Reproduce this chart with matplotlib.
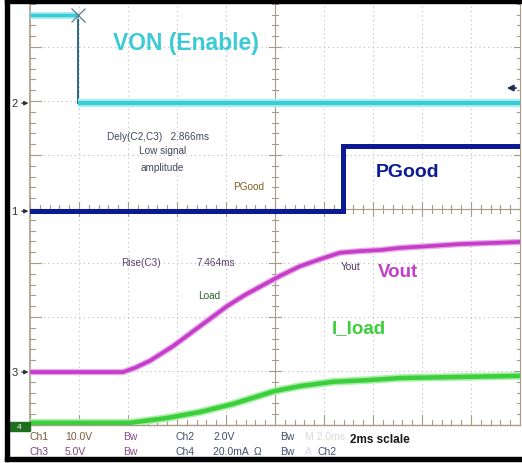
import numpy as np
import matplotlib.pyplot as plt
from matplotlib.patches import Rectangle

plt.rcParams['font.family'] = ['Liberation Sans', 'DejaVu Sans']

# time axis in ms (2 ms / div), vertical in divisions
von_t = [0.0, 1.96, 1.96, 20.0]
von_v = [7.59, 7.59, 5.96, 5.96]

pgood_t = [0.0, 12.78, 12.78, 20.0]
pgood_v = [3.96, 3.96, 5.17, 5.17]

vout_t = [0.0, 3.80, 4.29, 4.90, 5.84, 6.94, 8.04, 8.78, 9.39, 10.20, 11.02,
          11.84, 12.65, 13.47, 14.29, 15.10, 16.20, 17.55, 18.78, 20.0]
vout_v = [0.98, 0.98, 1.06, 1.19, 1.46, 1.83, 2.20, 2.41, 2.56, 2.76, 2.94,
          3.07, 3.19, 3.22, 3.24, 3.28, 3.31, 3.35, 3.37, 3.39]

iload_t = [0.0, 4.08, 5.59, 6.94, 8.29, 10.0, 11.02, 12.37, 13.76, 15.10, 17.55, 20.0]
iload_v = [0.04, 0.04, 0.13, 0.24, 0.39, 0.63, 0.72, 0.80, 0.83, 0.87, 0.89, 0.91]

# channel ground markers
marker_labels = ['2', '1', '3']
marker_levels = [5.96, 3.96, 0.98]

C_CYAN = '#3ccbd6'
C_NAVY = '#0c1a96'
C_MAG = '#c43cc8'
C_GREEN = '#3ccf3c'

fig = plt.figure(figsize=(5.22, 4.64), dpi=100)
# grid is 10 x 8 div, its top row is cut off by the frame
ax = fig.add_axes([30 / 522, 38 / 464, 490 / 522, 432 / 464])
ax.set_xlim(0, 20)
ax.set_ylim(0, 8)
ax.axis('off')

# grid
grid_kw = dict(color='#bcbcbc', lw=0.8, ls=(0, (1, 3)), zorder=1)
for gx in np.arange(2, 20, 2):
    ax.axvline(gx, **grid_kw)
for gy in np.arange(1, 8, 1):
    ax.axhline(gy, **grid_kw)

axis_col = '#a89c88'
ax.axvline(10, color=axis_col, lw=0.8, zorder=1)
ax.axhline(4, color=axis_col, lw=0.8, zorder=1)
ax.plot([0, 0], [0, 8], color=axis_col, lw=1.2, zorder=1, clip_on=False)
ax.plot([0, 20], [0, 0], color=axis_col, lw=1.0, zorder=1, clip_on=False)
ax.plot([20, 20], [0, 8], color=axis_col, lw=0.8, zorder=1, clip_on=False)

# minor ticks on centre axes and borders
for tx in np.arange(0, 20.01, 0.4):
    major = abs(tx / 2 - round(tx / 2)) < 1e-6
    h = 0.13 if major else 0.07
    ax.plot([tx, tx], [4 - h, 4 + h], color=axis_col, lw=0.8, zorder=1)
    ax.plot([tx, tx], [0, h * 1.4], color=axis_col, lw=0.8, zorder=1)
for ty in np.arange(0, 8.01, 0.2):
    major = abs(ty - round(ty)) < 1e-6
    w = 0.45 if major else 0.22
    ax.plot([10 - w / 2, 10 + w / 2], [ty, ty], color=axis_col, lw=0.8, zorder=1)
    ax.plot([0, w], [ty, ty], color=axis_col, lw=0.8, zorder=1, clip_on=False)
    ax.plot([20 - w / 2, 20], [ty, ty], color=axis_col, lw=0.8, zorder=1)

# traces
ax.plot(von_t[1:3], von_v[1:3], color='#2d6a88', lw=1.4, zorder=3)
ax.plot(von_t[:2], von_v[:2], color='#a6f0f2', lw=5, zorder=3, solid_capstyle='butt')
ax.plot(von_t[:2], von_v[:2], color=C_CYAN, lw=2.5, zorder=4, solid_capstyle='butt')
ax.plot(von_t[2:], von_v[2:], color='#a6f0f2', lw=6, zorder=3, solid_capstyle='butt')
ax.plot(von_t[2:], von_v[2:], color=C_CYAN, lw=3, zorder=4, solid_capstyle='butt')
ax.plot(von_t[1], von_v[0], marker='x', ms=10, mew=0.9, color='#607888', zorder=5)

ax.plot(pgood_t, pgood_v, color=C_NAVY, lw=3.6, zorder=4, solid_joinstyle='miter')
ax.plot(vout_t, vout_v, color='#e6a8e8', lw=4.5, zorder=3)
ax.plot(vout_t, vout_v, color=C_MAG, lw=2.6, zorder=4)
ax.plot(iload_t, iload_v, color='#a8eea8', lw=5.5, zorder=3)
ax.plot(iload_t, iload_v, color=C_GREEN, lw=3.2, zorder=4)

# trigger level arrow
ax.annotate('', xy=(19.35, 6.24), xytext=(19.95, 6.24),
            arrowprops=dict(arrowstyle='-|>', color='#203050', lw=1.3,
                            mutation_scale=9), zorder=6)

# channel markers on the left
for lab, lev in zip(marker_labels, marker_levels):
    ax.text(-0.5, lev, lab, ha='right', va='center', fontsize=8,
            color='#303030', clip_on=False)
    ax.annotate('', xy=(0.05, lev), xytext=(-0.45, lev),
                arrowprops=dict(arrowstyle='-|>', color='#303030', lw=0.9,
                                mutation_scale=6), annotation_clip=False)
fig.patches.append(Rectangle((8 / 522, 1 - 432 / 464), 22 / 522, 9 / 464,
                             transform=fig.transFigure, color='#1e6e1e', zorder=5))
fig.text(19 / 522, 1 - 428 / 464, '4', color='white', fontsize=6, ha='center',
         va='center', zorder=6)

# labels
ax.text(3.4, 7.09, 'VON (Enable)', color=C_CYAN, fontsize=16.5, fontweight='bold', va='center')
ax.text(14.1, 4.69, 'PGood', color=C_NAVY, fontsize=14, fontweight='bold', va='center')
ax.text(14.2, 2.85, 'Vout', color=C_MAG, fontsize=13.5, fontweight='bold', va='center')
ax.text(12.3, 1.80, 'I_load', color=C_GREEN, fontsize=13.5, fontweight='bold', va='center')

small = dict(fontsize=7.2, va='center')
ax.text(3.15, 5.35, 'Dely(C2,C3)   2.866ms', color='#404858', **small)
ax.text(5.4, 5.09, 'Low signal', color='#404858', ha='center', **small)
ax.text(5.4, 4.78, 'amplitude', color='#404858', ha='center', **small)
ax.text(8.3, 4.43, 'PGood', color='#806020', **small)
ax.text(3.7, 3.02, 'Rise(C3)', color='#604070', **small)
ax.text(6.8, 3.02, '7.464ms', color='#604070', **small)
ax.text(6.85, 2.41, 'Load', color='#306030', **small)
ax.text(12.7, 2.94, 'Yout', color='#503060', **small)

# bottom status area
status = [
    (30, 437, 'Ch1', '#7a5a38'), (65, 437, '10.0V', '#7a5a38'),
    (123, 437, 'Bw', '#8a4a8a'), (176, 437, 'Ch2', '#3e5070'),
    (213, 437, '2.0V', '#3e5070'), (280, 437, 'Bw', '#3e5070'),
    (305, 437, 'M 2.0ms', '#d8d8e0'),
    (30, 452, 'Ch3', '#7a4a7a'), (65, 452, '5.0V', '#7a4a7a'),
    (123, 452, 'Bw', '#8a4a8a'), (176, 452, 'Ch4', '#3e5070'),
    (213, 452, '20.0mA  \u03a9', '#3e5070'), (280, 452, 'Bw', '#3e5070'),
    (305, 452, 'A', '#d8d8e0'), (317, 452, 'Ch2', '#3e5070'),
]
for px, py, s, c in status:
    fig.text(px / 522, 1 - py / 464, s, color=c, fontsize=7.5, va='center')
fig.text(350 / 522, 1 - 440 / 464, '2ms sclale', color='#181818', fontsize=8.5,
         fontweight='bold', va='center')

# black frame (left, top, bottom)
for rect in [(5, 0, 4, 462), (5, 0, 517, 4), (5, 458, 517, 4)]:
    x0, y0, w, h = rect
    fig.patches.append(Rectangle((x0 / 522, 1 - (y0 + h) / 464), w / 522, h / 464,
                                 transform=fig.transFigure, color='black', zorder=10))

fig.savefig('out.png', dpi=100)
